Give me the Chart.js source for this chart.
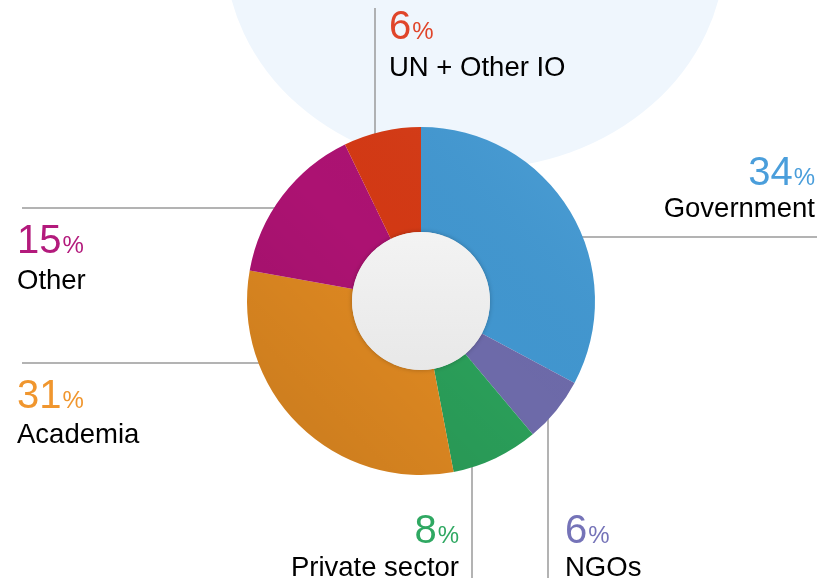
<!DOCTYPE html>
<html>
<head>
<meta charset="utf-8">
<script src="https://cdn.jsdelivr.net/npm/chart.js@4.4.1/dist/chart.umd.min.js"></script>
<style>
  html, body { margin: 0; padding: 0; background: #ffffff; }
  canvas { display: block; }
</style>
</head>
<body>
<canvas id="myChart" width="817" height="585"></canvas>
<script>
// slices, clockwise from 12 o'clock
const categories = ['Government', 'NGOs', 'Private sector', 'Academia', 'Other', 'UN + Other IO'];
// slice sizes as drawn in the picture
const shares = [32.8, 6.1, 8.1, 30.8, 15.0, 7.2];
// percentages printed next to each slice
const printed = [34, 6, 8, 31, 15, 6];
const sliceColors = ['#4196cf', '#6d6aa9', '#2a9e59', '#de8821', '#ac1272', '#d33914'];
const textColors = ['#4a9edb', '#7573b8', '#2fa862', '#f0962e', '#b31a7c', '#e0452a'];

// where each label and its leader line sit (same order as categories)
const labelLayout = [
  { x: 815, y: 185, gap: 32, align: 'right', line: { x1: 421, y1: 237, x2: 817, y2: 237 } },
  { x: 565, y: 543, gap: 33, align: 'left',  line: { x1: 548, y1: 301, x2: 548, y2: 578 } },
  { x: 459, y: 543, gap: 33, align: 'right', line: { x1: 472, y1: 301, x2: 472, y2: 578 } },
  { x: 17,  y: 408, gap: 35, align: 'left',  line: { x1: 22,  y1: 363, x2: 421, y2: 363 } },
  { x: 17,  y: 253, gap: 36, align: 'left',  line: { x1: 22,  y1: 208, x2: 421, y2: 208 } },
  { x: 389, y: 39,  gap: 37, align: 'left',  line: { x1: 375, y1: 8,   x2: 375, y2: 301 } }
];

const FONT = '"Liberation Sans", Arial, Helvetica, sans-serif';

const decorations = {
  id: 'decorations',
  beforeDatasetsDraw(chart) {
    const ctx = chart.ctx;
    ctx.save();
    // pale blue backdrop behind the top label
    ctx.fillStyle = '#eff6fd';
    ctx.beginPath();
    ctx.ellipse(475, -50, 250, 219, 0, 0, Math.PI * 2);
    ctx.fill();
    // leader lines, the doughnut covers their inner ends
    ctx.strokeStyle = '#9a9a9a';
    ctx.lineWidth = 1.5;
    labelLayout.forEach(l => {
      ctx.beginPath();
      ctx.moveTo(l.line.x1, l.line.y1);
      ctx.lineTo(l.line.x2, l.line.y2);
      ctx.stroke();
    });
    ctx.restore();
  },
  afterDatasetsDraw(chart) {
    const ctx = chart.ctx;
    const arc = chart.getDatasetMeta(0).data[0];
    const cx = arc.x, cy = arc.y, r = arc.innerRadius, R = arc.outerRadius;

    // soft light from the upper right over the ring
    ctx.save();
    ctx.beginPath();
    ctx.arc(cx, cy, R, 0, Math.PI * 2);
    ctx.clip();
    const shade = ctx.createLinearGradient(cx - R * 0.7, cy + R * 0.7, cx + R * 0.7, cy - R * 0.7);
    shade.addColorStop(0, 'rgba(0,0,0,0.07)');
    shade.addColorStop(0.5, 'rgba(0,0,0,0.0)');
    shade.addColorStop(1, 'rgba(255,255,255,0.03)');
    ctx.fillStyle = shade;
    ctx.fillRect(cx - R, cy - R, 2 * R, 2 * R);
    ctx.restore();

    // grey hub in the middle
    ctx.save();
    ctx.shadowColor = 'rgba(0,0,0,0.25)';
    ctx.shadowBlur = 5;
    const g = ctx.createLinearGradient(0, cy - r, 0, cy + r);
    g.addColorStop(0, '#f3f3f3');
    g.addColorStop(1, '#e8e8e8');
    ctx.fillStyle = g;
    ctx.beginPath();
    ctx.arc(cx, cy, r, 0, Math.PI * 2);
    ctx.fill();
    ctx.restore();

    // labels
    ctx.save();
    ctx.textBaseline = 'alphabetic';
    categories.forEach((name, i) => {
      const l = labelLayout[i];
      const num = String(printed[i]);
      ctx.font = '40px ' + FONT;
      const numW = ctx.measureText(num).width;
      ctx.font = '24px ' + FONT;
      const pctW = ctx.measureText('%').width;
      const total = numW + 1 + pctW;
      const left = l.align === 'right' ? l.x - total : l.x;
      ctx.textAlign = 'left';
      ctx.fillStyle = textColors[i];
      ctx.font = '40px ' + FONT;
      ctx.fillText(num, left, l.y);
      ctx.font = '24px ' + FONT;
      ctx.fillText('%', left + numW + 1, l.y);

      ctx.fillStyle = '#000000';
      ctx.font = '27.5px ' + FONT;
      ctx.textAlign = l.align;
      ctx.fillText(name, l.x, l.y + l.gap);
    });
    ctx.restore();
  }
};

const ctx = document.getElementById('myChart').getContext('2d');
new Chart(ctx, {
  type: 'doughnut',
  data: {
    labels: categories,
    datasets: [{
      data: shares,
      backgroundColor: sliceColors,
      borderWidth: 0,
      hoverOffset: 0
    }]
  },
  options: {
    responsive: false,
    animation: false,
    cutout: 69,
    layout: { padding: { top: 127, bottom: 110, left: 121, right: 96 } },
    plugins: {
      legend: { display: false },
      tooltip: { enabled: false }
    }
  },
  plugins: [decorations]
});
</script>
</body>
</html>
